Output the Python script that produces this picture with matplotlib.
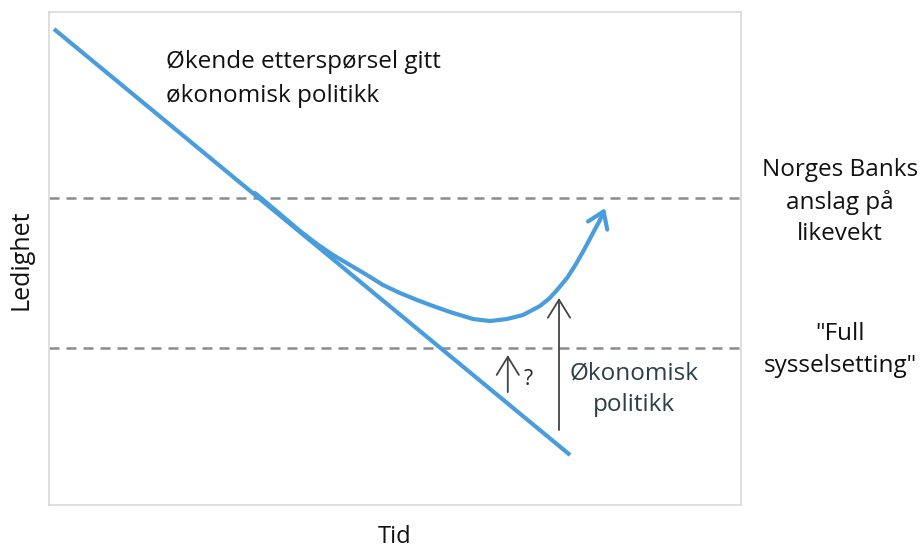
import matplotlib
matplotlib.use("Agg")
import matplotlib.pyplot as plt

plt.rcParams['font.family'] = ['Open Sans', 'DejaVu Sans']

# Data (time 0-100, unemployment 0-100, schematic)
line_t = [0.72, 75.3]
line_u = [96.55, 10.14]

curve_t = [29.77, 33.38, 36.27, 38.73, 41.04, 43.50, 45.95, 48.27, 50.72, 53.18, 55.49, 57.95,
           61.27, 63.73, 66.18, 68.50, 70.95, 72.30, 73.41, 74.86, 76.16, 77.46, 78.61, 79.62, 80.35]
curve_u = [63.29, 59.03, 55.58, 52.94, 50.71, 48.68, 46.65, 44.62, 43.00, 41.58, 40.37, 39.15,
           37.73, 37.32, 37.73, 38.54, 40.37, 41.90, 43.60, 46.04, 48.88, 52.13, 55.17, 57.81, 60.24]

equilibrium_level = 62.27
full_employment_level = 31.85

big_arrow_t = 73.7
big_arrow_u = [15.2, 42.0]
small_arrow_t = 66.3
small_arrow_u = [22.9, 30.4]

blue = '#4A9DDC'

fig = plt.figure(figsize=(9.21, 5.49), dpi=100)
ax = fig.add_axes([49/921, (549-505)/549, 692/921, 493/549])
ax.set_xlim(0, 100)
ax.set_ylim(0, 100)
ax.set_xticks([])
ax.set_yticks([])
for s in ax.spines.values():
    s.set_color('#d9d9d9')
    s.set_linewidth(1.2)

ax.axhline(equilibrium_level, color='#8c8c8c', lw=1.8, dashes=(4, 2.8))
ax.axhline(full_employment_level, color='#8c8c8c', lw=1.8, dashes=(4, 2.8))

ax.plot(line_t, line_u, color=blue, lw=3, solid_capstyle='butt')
ax.plot(curve_t[:-1], curve_u[:-1], color=blue, lw=3, solid_joinstyle='round', solid_capstyle='round')
ax.annotate('', xy=(curve_t[-1], curve_u[-1]), xytext=(curve_t[-2], curve_u[-2]),
            arrowprops=dict(arrowstyle='->,head_length=1.1,head_width=0.75', color=blue, lw=3,
                            shrinkA=0, shrinkB=0))

ax.annotate('', xy=(big_arrow_t, big_arrow_u[1]), xytext=(big_arrow_t, big_arrow_u[0]),
            arrowprops=dict(arrowstyle='->,head_length=1.3,head_width=0.8', color='#444444', lw=1.3,
                            shrinkA=0, shrinkB=0))
ax.annotate('', xy=(small_arrow_t, small_arrow_u[1]), xytext=(small_arrow_t, small_arrow_u[0]),
            arrowprops=dict(arrowstyle='->,head_length=1.3,head_width=0.8', color='#444444', lw=1.3,
                            shrinkA=0, shrinkB=0))
ax.text(69.2, 25.4, '?', fontsize=15, color='#222222', ha='center', va='center')

ax.text(84.5, 23.5, 'Økonomisk\npolitikk', fontsize=17.5, color='#2a3f47', ha='center', va='center',
        linespacing=1.45)
ax.text(16.9, 86.4, 'Økende etterspørsel gitt\nøkonomisk politikk', fontsize=17.5, color='#111111',
        ha='left', va='center', linespacing=1.55)

ax.text(114.3, 61.5, 'Norges Banks\nanslag på\nlikevekt', fontsize=17.5, color='#111111',
        ha='center', va='center', linespacing=1.42, clip_on=False)
ax.text(114.3, 31.4, '"Full\nsysselsetting"', fontsize=17.5, color='#111111',
        ha='center', va='center', linespacing=1.42, clip_on=False)

ax.set_ylabel('Ledighet', fontsize=18, color='#111111')
ax.set_xlabel('Tid', fontsize=17, color='#111111')
ax.yaxis.set_label_coords(-0.0405, 0.497)
ax.xaxis.set_label_coords(0.5, -0.064)
ax.yaxis.label.set_va('center')
ax.xaxis.label.set_va('center')

fig.savefig('out.png', dpi=100)
